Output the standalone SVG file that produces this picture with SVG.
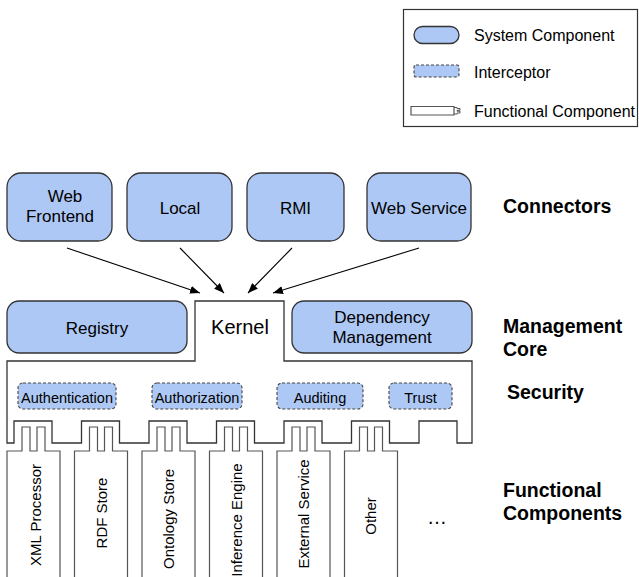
<svg xmlns="http://www.w3.org/2000/svg" width="639" height="577" viewBox="0 0 639 577">
  <style>
    text { font-family: "Liberation Sans", Arial, sans-serif; fill: #000; }
    .sys { fill: #aec8f5; stroke: #333; stroke-width: 1.3; }
    .icp { fill: #aec8f5; stroke: #444; stroke-width: 1.1; stroke-dasharray: 3 2; }
    .frame { fill: #fff; stroke: #333; stroke-width: 1.3; }
    .fc { fill: #fff; stroke: #555; stroke-width: 1.2; }
    .lbl { font-size: 17px; text-anchor: middle; }
    .small { font-size: 14.5px; text-anchor: middle; }
    .vert { font-size: 15px; text-anchor: middle; }
    .layer { font-size: 19.5px; font-weight: bold; }
    .edge { stroke: #000; stroke-width: 1.1; fill: none; marker-end: url(#arrow); }
  </style>
  <defs>
    <marker id="arrow" viewBox="0 0 10 8" refX="10" refY="4" markerWidth="10" markerHeight="8" markerUnits="userSpaceOnUse" orient="auto">
      <path d="M0,0 L10,4 L0,8 Z" fill="#000"/>
    </marker>
  </defs>

  <!-- legend -->
  <g id="legend">
    <rect x="403.5" y="9.5" width="234" height="117" fill="#fff" stroke="#333" stroke-width="1.2"/>
    <rect class="sys" x="414" y="26.5" width="45" height="17" rx="8.5"/>
    <text x="474" y="41" font-size="16">System Component</text>
    <rect class="icp" x="414" y="65" width="45" height="12" rx="2"/>
    <text x="474" y="78" font-size="16">Interceptor</text>
    <path class="fc" d="M411,106.5 H454 V115 H411 Z"/>
    <path d="M454,107.5 H457 V108.5 H460 V110.3 H457 V111.2 H460 V113 H457 V114 H454" fill="none" stroke="#555" stroke-width="1"/>
    <text x="474" y="117" font-size="16">Functional Component</text>
  </g>

  <!-- connectors layer -->
  <g id="web-frontend">
    <rect class="sys" x="7" y="173" width="105" height="68" rx="14"/>
    <text class="lbl" x="65" y="201.5">Web</text>
    <text class="lbl" x="60" y="221.5">Frontend</text>
  </g>
  <g id="local">
    <rect class="sys" x="127" y="173" width="105" height="68" rx="14"/>
    <text class="lbl" x="180" y="214">Local</text>
  </g>
  <g id="rmi">
    <rect class="sys" x="247" y="173" width="97" height="68" rx="14"/>
    <text class="lbl" x="295.5" y="214">RMI</text>
  </g>
  <g id="web-service">
    <rect class="sys" x="367" y="173" width="104" height="68" rx="14"/>
    <text class="lbl" x="419" y="214">Web Service</text>
  </g>

  <g id="connectors">
    <line class="edge" x1="67" y1="248" x2="200" y2="293"/>
    <line class="edge" x1="180" y1="248" x2="224" y2="293"/>
    <line class="edge" x1="292" y1="248" x2="248" y2="293"/>
    <line class="edge" x1="419" y1="248" x2="273" y2="293"/>
  </g>

  <!-- kernel with security layer and sockets -->
  <g id="kernel">
    <path class="frame" d="M7,443 V361 H195 V301 H284 V361 H472 V443 H457 V421 H419 V443 H389.5 V421 H351.5 V443 H322 V421 H284 V443 H254.5 V421 H216.5 V443 H187 V421 H149 V443 H119.5 V421 H81.5 V443 H52 V421 H14 V443 Z"/>
    <text x="240" y="334" font-size="20" text-anchor="middle">Kernel</text>
  </g>
  <g id="registry">
    <rect class="sys" x="7" y="301" width="180" height="52" rx="12"/>
    <text class="lbl" x="97" y="334">Registry</text>
  </g>
  <g id="dependency-management">
    <rect class="sys" x="292" y="301" width="180" height="52" rx="12"/>
    <text class="lbl" x="382" y="323">Dependency</text>
    <text class="lbl" x="382" y="343">Management</text>
  </g>

  <!-- interceptors -->
  <g id="authentication">
    <rect class="icp" x="18" y="383" width="98" height="26" rx="5"/>
    <text class="small" x="67" y="402.5">Authentication</text>
  </g>
  <g id="authorization">
    <rect class="icp" x="152" y="383" width="90" height="26" rx="5"/>
    <text class="small" x="197" y="402.5">Authorization</text>
  </g>
  <g id="auditing">
    <rect class="icp" x="277" y="383" width="86" height="26" rx="5"/>
    <text class="small" x="320" y="402.5">Auditing</text>
  </g>
  <g id="trust">
    <rect class="icp" x="389" y="383" width="63" height="26" rx="5"/>
    <text class="small" x="420.5" y="402.5">Trust</text>
  </g>

  <!-- functional components with plugs -->
  <g id="xml-processor">
    <path class="fc" d="M7,580 V451 H22 V427 H30 V451 H37 V427 H45 V451 H60 V580"/>
    <text class="vert" transform="translate(41,515) rotate(-90)">XML Processor</text>
  </g>
  <g id="rdf-store">
    <path class="fc" d="M74.5,580 V451 H89.5 V427 H97.5 V451 H104.5 V427 H112.5 V451 H127.5 V580"/>
    <text class="vert" transform="translate(106.5,513) rotate(-90)">RDF Store</text>
  </g>
  <g id="ontology-store">
    <path class="fc" d="M142,580 V451 H157 V427 H165 V451 H172 V427 H180 V451 H195 V580"/>
    <text class="vert" transform="translate(174,519) rotate(-90)">Ontology Store</text>
  </g>
  <g id="inference-engine">
    <path class="fc" d="M209.5,580 V451 H224.5 V427 H232.5 V451 H239.5 V427 H247.5 V451 H262.5 V580"/>
    <text class="vert" transform="translate(241.5,520) rotate(-90)">Inference Engine</text>
  </g>
  <g id="external-service">
    <path class="fc" d="M277,580 V451 H292 V427 H300 V451 H307 V427 H315 V451 H330 V580"/>
    <text class="vert" transform="translate(308.5,514) rotate(-90)">External Service</text>
  </g>
  <g id="other">
    <path class="fc" d="M344.5,580 V451 H359.5 V427 H367.5 V451 H374.5 V427 H382.5 V451 H397.5 V580"/>
    <text class="vert" transform="translate(376,516) rotate(-90)">Other</text>
  </g>
  <text x="437" y="524" font-size="20" text-anchor="middle">…</text>

  <!-- layer labels -->
  <g id="layer-labels">
    <text class="layer" x="503" y="213">Connectors</text>
    <text class="layer" x="503" y="333">Management</text>
    <text class="layer" x="503" y="356">Core</text>
    <text class="layer" x="507" y="399">Security</text>
    <text class="layer" x="503" y="497">Functional</text>
    <text class="layer" x="503" y="520">Components</text>
  </g>
</svg>
